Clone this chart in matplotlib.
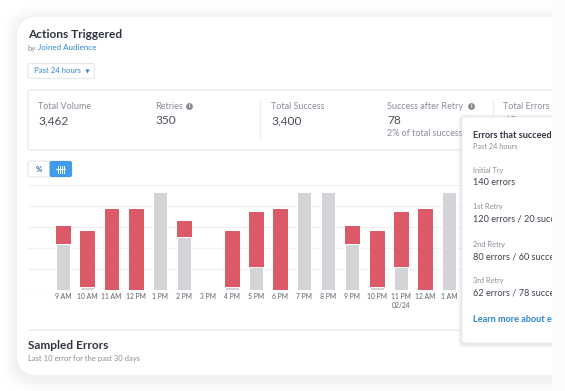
import matplotlib
matplotlib.use('Agg')
import matplotlib.pyplot as plt
from matplotlib.patches import FancyBboxPatch, Rectangle, Circle

plt.rcParams['font.family'] = ['Lato', 'DejaVu Sans']

horas = ['9 AM', '10 AM', '11 AM', '12 PM', '1 PM', '2 PM', '3 PM', '4 PM', '5 PM', '6 PM',
         '7 PM', '8 PM', '9 PM', '10 PM', '11 PM\n02/24', '12 AM', '1 AM']
sucesso = [66, 5, 0, 0, 140, 76, 0, 5, 33, 0, 140, 140, 66, 5, 33, 0, 140]
erros = [25, 80, 116, 116, 0, 23, 0, 80, 78, 116, 0, 0, 25, 80, 78, 116, 0]
grade = [0, 30, 60, 90, 120, 150]

stats_nomes = ['Total Volume', 'Retries', 'Total Success', 'Success after Retry', 'Total Errors']
stats_valores = ['3,462', '350', '3,400', '78', '62']
stats_x = [38.5, 155, 271, 387, 503]

tentativas = ['Initial Try', '1st Retry', '2nd Retry', '3rd Retry']
tentativas_txt = ['140 errors', '120 errors / 20 succ', '80 errors / 60 succe', '62 errors / 78 succe']
tentativas_y = [170, 207, 244, 281]

ESCURO = '#2f3440'
CINZA = '#8a8e98'
AZUL = '#2f86cf'
VERMELHO = '#dc5a68'
VERMELHO2 = '#d34a5b'
CINZA_BARRA = '#d3d4d8'
LINHA = '#f0f0f2'


def px_axes(fig, z):
    ax = fig.add_axes([0, 0, 1, 1], zorder=z)
    ax.set_xlim(0, 565)
    ax.set_ylim(391, 0)
    ax.axis('off')
    ax.patch.set_alpha(0)
    return ax


def caixa(ax, x, y, w, h, r, **kw):
    p = FancyBboxPatch((x, y), w, h, boxstyle=f'round,pad=0,rounding_size={r}', **kw)
    ax.add_patch(p)
    return p


def sombra(ax, x, y, w, h, r, passos, alpha, dy=3):
    for i in range(passos, 0, -1):
        caixa(ax, x - i, y - i + dy, w + 2 * i, h + 2 * i, r + i, fc='#55586a', ec='none', alpha=alpha)


fig = plt.figure(figsize=(5.65, 3.91), dpi=100)
fundo = px_axes(fig, 0)
graf = fig.add_axes([28 / 565, 1 - 290.3 / 391, (552 - 28) / 565, 105.3 / 391], zorder=1)
topo = px_axes(fig, 2)

# cartao
sombra(fundo, 17, 17, 600, 358, 20, 14, 0.005)
caixa(fundo, 17, 17, 600, 358, 20, fc='white', ec='none')

fundo.text(28, 35, 'Actions Triggered', fontsize=8.6, color=ESCURO, fontweight='bold', va='center')
fundo.text(28, 48, 'by', fontsize=5.7, color=CINZA, va='center')
fundo.text(38.5, 48, 'Joined Audience', fontsize=5.8, color=AZUL, va='center')

caixa(fundo, 28, 63.5, 66.5, 15, 2, fc='white', ec='#e6e7ea', lw=0.8)
fundo.text(33.5, 70.5, 'Past 24 hours', fontsize=5.6, color=AZUL, va='center')
fundo.plot([87], [71], marker='v', ms=3, color=AZUL, mec='none')

# caixa de totais
caixa(fundo, 28, 90, 600, 60, 2, fc='white', ec='#eeeef0', lw=1.2)
fundo.plot([259.7, 259.7], [100, 139], color='#efeff1', lw=1)
fundo.plot([492.5, 492.5], [100, 139], color='#efeff1', lw=1)
for nome, valor, x in zip(stats_nomes, stats_valores, stats_x):
    fundo.text(x, 106.5, nome, fontsize=6.5, color=CINZA, va='center')
    fundo.text(x, 120.5, valor, fontsize=8.6, color='#4a4e5a', va='center')
fundo.text(387, 134, '2% of total success', fontsize=6.5, color=CINZA, va='center')
for x in (189.5, 471.5):
    fundo.add_patch(Circle((x, 106.5), 3.4, fc='#85888f', ec='none'))
    fundo.text(x, 106.6, 'i', fontsize=4.2, color='white', fontweight='bold', ha='center', va='center')

# botoes
caixa(fundo, 28, 161, 44, 16, 2, fc='white', ec='#e6e7ea', lw=0.8)
caixa(fundo, 49.5, 161, 22.5, 16, 2, fc='#3f9bef', ec='none')
fundo.text(38.8, 169, '%', fontsize=5.5, color='#2d6fb0', fontweight='bold', ha='center', va='center')
for x in (57.5, 59.5, 61.5, 63.5):
    fundo.plot([x, x], [165.5, 172.5], color='white', lw=0.7)
fundo.plot([56, 65], [169, 169], color='white', lw=0.7)

# grafico
pos = list(range(len(horas)))
graf.bar(pos, erros, bottom=sucesso, width=0.58, color=VERMELHO, edgecolor=VERMELHO2, linewidth=0.6, zorder=2)
graf.bar(pos, sucesso, width=0.58, color=CINZA_BARRA, edgecolor='white', linewidth=0.7, zorder=3)
graf.set_xlim(-1.465, 20.28)
graf.set_ylim(0, 150)
graf.set_yticks(grade)
graf.set_xticks(pos)
graf.set_xticklabels(horas, fontsize=4.9, color='#5c606a', linespacing=1.25)
graf.tick_params(axis='both', length=0, pad=2)
graf.tick_params(axis='y', labelleft=False)
graf.grid(axis='y', color=LINHA, lw=0.8, zorder=0)
graf.set_axisbelow(True)
for lado in graf.spines.values():
    lado.set_visible(False)
graf.patch.set_alpha(0)

# parte de baixo
fundo.plot([28, 552], [330, 330], color='#efeff1', lw=1.2)
fundo.text(28, 345.5, 'Sampled Errors', fontsize=8.6, color=ESCURO, fontweight='bold', va='center')
fundo.text(28, 358, 'Last 10 error for the past 30 days', fontsize=5.5, color=CINZA, va='center')

# popover
sombra(topo, 462, 117, 120, 226, 3, 4, 0.03, dy=1)
caixa(topo, 462, 117, 120, 226, 3, fc='white', ec='#e8e9eb', lw=0.6)
topo.text(473, 135, 'Errors that succeed', fontsize=6.6, color=ESCURO, fontweight='bold', va='center')
topo.text(473, 146.5, 'Past 24 hours', fontsize=5.3, color=CINZA, va='center')
for nome, txt, y in zip(tentativas, tentativas_txt, tentativas_y):
    topo.text(473, y, nome, fontsize=5.3, color=CINZA, va='center')
    topo.text(473, y + 12.5, txt, fontsize=6.6, color='#3d414c', va='center')
topo.text(473, 319.5, 'Learn more about e', fontsize=6.6, color=AZUL, fontweight='bold', va='center')

# corte na direita
topo.add_patch(Rectangle((552, 0), 13, 391, fc='#fbfbfc', ec='none', zorder=10))

fig.savefig('out.png', dpi=100)
